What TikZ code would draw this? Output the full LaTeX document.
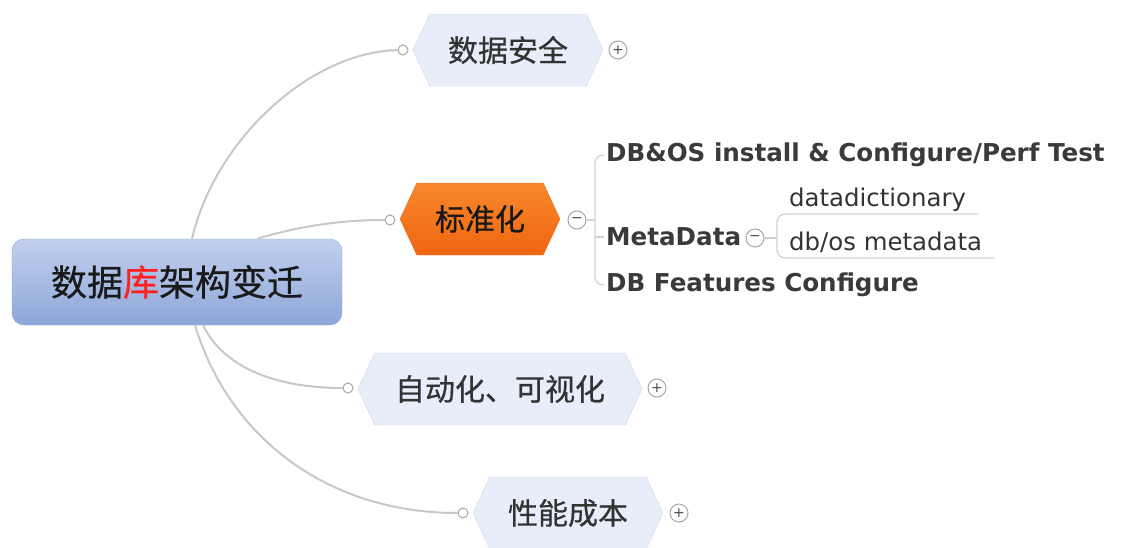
\documentclass[tikz,border=0pt]{standalone}
\usepackage{fontspec}
\setmainfont{DejaVu Sans}
\newfontfamily\cjk{Noto Sans CJK SC}[FakeBold=0.6]
\usetikzlibrary{shapes.symbols}

\definecolor{roottop}{HTML}{C2D0EE}
\definecolor{rootbot}{HTML}{8DA6D8}
\definecolor{rootedge}{HTML}{93A9D6}
\definecolor{topicfill}{HTML}{E8EEF9}
\definecolor{topicedge}{HTML}{CDD6E6}
\definecolor{hottop}{HTML}{F8882C}
\definecolor{hotbot}{HTML}{EF6510}
\definecolor{hotedge}{HTML}{E8772E}
\definecolor{linegray}{HTML}{C8C8C8}
\definecolor{twiggray}{HTML}{D2D2D2}
\definecolor{leafgray}{HTML}{3A3A3A}
\definecolor{keyred}{HTML}{FF2020}

\begin{document}
\begin{tikzpicture}[x=1pt,y=-1pt,
  root node/.style={rectangle,rounded corners=12pt,draw=rootedge,top color=roottop,bottom color=rootbot,
    minimum width=330pt,minimum height=86pt,font=\cjk\fontsize{36}{40}\selectfont,text=black!90},
  topic node/.style={signal,signal to=east and west,signal pointer angle=130,draw=topicedge,fill=topicfill,
    minimum height=72pt,font=\cjk\fontsize{30}{34}\selectfont,text=black!80},
  hot node/.style={topic node,draw=hotedge,top color=hottop,bottom color=hotbot,text=black!90},
  joint/.style={circle,draw=black!35,fill=white,line width=1pt,minimum size=10pt,inner sep=0pt},
  fold/.style={circle,draw=black!35,fill=white,line width=1pt,minimum size=18pt,inner sep=0pt,
    font=\fontsize{14}{14}\selectfont,text=black!70},
  branch/.style={draw=linegray,line width=2pt},
  twig/.style={draw=twiggray,line width=1.3pt},
  leaf node/.style={anchor=west,inner xsep=2pt,font=\bfseries\fontsize{24.6}{28}\selectfont,text=leafgray},
  sub node/.style={anchor=south west,inner xsep=12pt,inner ysep=0pt,text depth=7pt,
    font=\fontsize{24.4}{28}\selectfont,text=black!80}]

  \useasboundingbox (0,0) rectangle (1124,547);

  \node[root node] (root) at (177,282){数据{\color{keyred}库}架构变迁};

  \node[topic node,minimum width=190pt] (safe) at (508,50){数据安全};
  \node[hot node,minimum width=160pt] (std) at (480,219){标准化};
  \node[topic node,minimum width=284pt] (auto) at (500,389){自动化、可视化};
  \node[topic node,minimum width=190pt] (perf) at (568,513){性能成本};

  \node[joint] (jsafe) at (403,50){};
  \node[joint] (jstd) at (390,220){};
  \node[joint] (jauto) at (348,388){};
  \node[joint] (jperf) at (463,513){};

  \node[fold] (fsafe) at (618,50){+};
  \node[fold] (fstd) at (577,220){−};
  \node[fold] (fauto) at (657,388){+};
  \node[fold] (fperf) at (679,513){+};

  % main branches
  \draw[branch] ([xshift=15pt]root.north) .. controls (215,140) and (310,52) .. (jsafe);
  \draw[branch] ([xshift=80pt]root.north) .. controls (300,226) and (340,220) .. (jstd);
  \draw[branch] ([xshift=26pt]root.south) .. controls (225,370) and (280,388) .. (jauto);
  \draw[branch] ([xshift=18pt]root.south) .. controls (230,440) and (330,513) .. (jperf);

  % details of std
  \node[leaf node] (dbos) at (604,155){DB\&OS install \& Configure/Perf Test};
  \node[leaf node] (meta) at (604,237){MetaData};
  \node[leaf node] (feat) at (604,285){DB Features Configure};
  \node[fold] (fmeta) at (755,238){−};
  \node[sub node] (dict) at (777,214){datadictionary};
  \node[sub node] (osmeta) at (777,258){db/os metadata};

  \coordinate (b1) at (595,220);
  \draw[twig] (fstd) -- (b1);
  \draw[twig,rounded corners=8pt] (dbos.west) -| (b1) |- (feat.west);
  \draw[twig] (b1 |- meta.west) -- (meta.west);
  \draw[twig] (fmeta) -- (fmeta -| osmeta.south west);
  \draw[twig,rounded corners=8pt] (dict.south east) -- (dict.south west) -- (osmeta.south west) -- (osmeta.south east);
\end{tikzpicture}
\end{document}
